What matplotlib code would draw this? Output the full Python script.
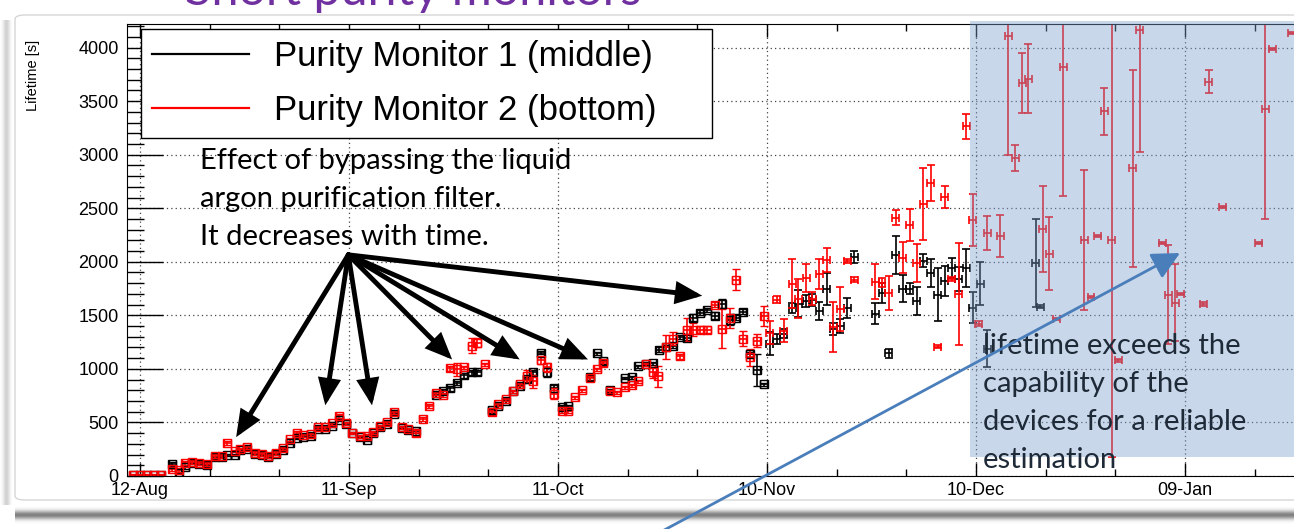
import datetime as dt
import numpy as np
import matplotlib.pyplot as plt
import matplotlib.dates as mdates
from matplotlib.lines import Line2D
from matplotlib.patches import Rectangle, FancyBboxPatch, FancyArrowPatch
from matplotlib.ticker import FixedLocator, MultipleLocator

plt.rcParams['font.family'] = ['Liberation Sans', 'DejaVu Sans']

W, H = 1294, 529
T0 = mdates.date2num(dt.datetime(2015, 8, 12))

# days after 12-Aug, electron lifetime [s] and its error [s]
pm1_day = [
    -1, 0, 1, 2, 3, 4.6, 5.6, 6.5, 7.4, 8.5, 9.6,
    10.8, 11.7, 12.5, 13.6, 14.4, 15.3, 16.5, 17.5, 18.4, 19.5,
    20.5, 21.5, 22.5, 23.4, 24.5, 25.5, 26.6, 27.6, 28.6, 29.6,
    30.5, 31.6, 32.6, 33.5, 34.5, 35.4, 36.5, 37.6, 38.5, 39.6,
    42.5, 43.5, 44.5, 45.5, 46.5, 47.6, 48.4,
    50.5, 51.4, 52.5, 53.6, 54.5, 55.5, 56.4, 57.5, 58.4, 59.4,
    60.6, 61.5, 64.6, 65.6, 66.5, 67.4, 69.6, 70.6, 71.5, 72.6,
    73.6, 74.5, 75.5, 76.5, 77.5, 78.5, 79.4, 80.4, 81.4, 82.5,
    83.5, 84.7, 85.5, 86.5, 87.5, 88.5, 89.5, 90.4, 91.4, 92.4,
    93.6, 94.5, 95.6, 96.5, 97.5, 98.6, 99.5, 100.5, 101.5, 102.5,
    105.5, 106.5, 107.5, 108.5, 109.5, 110.5, 111.5, 112.4, 113.5, 114.5,
    115.5, 116.5, 117.5, 118.6, 119.5, 120.6, 121.6, 128.6, 129.2,
]
pm1_tau = [
    5, 5, 5, 5, 5, 112, 28, 84, 120, 115, 100,
    175, 180, 195, 195, 240, 255, 205, 195, 180, 205,
    245, 310, 357, 365, 375, 440, 440, 470, 525, 490,
    400, 365, 340, 400, 455, 490, 580, 450, 430, 420,
    760, 790, 818, 865, 939, 967, 967,
    614, 651, 700, 790, 840, 902, 967, 1153, 967, 825,
    642, 651, 920, 1144, 1070, 800, 911, 920, 1023, 1050,
    1051, 1181, 1200, 1218, 1300, 1293, 1479, 1525, 1553, 1497,
    1609, 1460, 1479, 1535, 1135, 986, 855, 1237, 1283, 1330,
    1572, 1609, 1637, 1640, 1544, 1748, 1376, 1404, 1572, 2046,
    1516, 1711, 1144, 2065, 1748, 1748, 1637, 2009, 1897, 1693,
    1823, 1944, 1841, 1944, 1572, 1795, 1190, 1990, 1581,
]
pm1_err = [
    5, 5, 5, 5, 5, 15, 12, 15, 12, 12, 12,
    12, 12, 12, 12, 12, 12, 12, 12, 12, 12,
    15, 15, 15, 15, 15, 15, 15, 15, 15, 15,
    12, 12, 15, 15, 15, 15, 15, 15, 15, 15,
    20, 20, 20, 20, 20, 20, 20,
    25, 20, 15, 15, 15, 20, 20, 12, 40, 20,
    20, 12, 20, 10, 20, 12, 10, 15, 12, 15,
    15, 25, 25, 25, 20, 25, 30, 25, 20, 30,
    40, 50, 25, 25, 25, 150, 15, 110, 46, 40,
    46, 124, 55, 55, 85, 147, 55, 65, 93, 55,
    96, 93, 40, 180, 127, 50, 132, 62, 132, 248,
    140, 93, 110, 176, 144, 200, 170, 410, 15,
]

pm2_day = [
    -1, 0, 1, 2, 3, 4.6, 5.6, 6.5, 7.4, 8.5, 9.6,
    10.8, 11.7, 12.5, 13.6, 14.4, 15.3, 16.5, 17.5, 18.4, 19.5,
    20.5, 21.5, 22.5, 23.4, 24.5, 25.5, 26.6, 27.6, 28.6, 29.6,
    30.5, 31.6, 32.6, 33.5, 34.5, 35.4, 36.5, 37.6, 38.5, 39.6,
    40.6, 41.5, 42.5, 43.5, 44.5, 45.5, 46.5, 47.6, 48.4, 49.5,
    50.5, 51.4, 52.5, 53.6, 54.5, 55.5, 56.4, 57.5, 58.4, 59.4,
    60.6, 61.5, 62.4, 63.5, 64.6, 65.6, 66.5, 67.4, 68.4, 69.6,
    70.6, 71.5, 72.6, 73.6, 74.4, 75.5, 76.5, 77.5, 78.5, 79.4,
    80.4, 81.4, 82.5, 83.5, 84.7, 85.5, 86.5, 87.5, 88.5, 89.6,
    90.4, 91.4, 92.4, 93.6, 94.5, 95.6, 96.5, 97.5, 98.6, 99.5,
    100.5, 101.5, 102.5, 105.5, 106.5, 107.5, 108.5, 109.5, 110.5, 111.5,
    112.4, 113.5, 114.5, 115.5, 116.5, 117.5, 118.6, 119.5, 120.4, 121.6,
    123.5, 124.6, 125.6, 126.6, 127.5, 129.6, 130.5, 131.5, 132.5, 135.5,
    136.5, 137.5, 138.4, 139.5, 140.4, 142.5, 143.5, 146.7, 147.6, 148.6,
    149.4, 152.6, 153.4, 155.4, 160.6, 161.5, 162.5, 165.3,
]
pm2_tau = [
    10, 10, 10, 10, 10, 65, 56, 121, 130, 121, 112,
    186, 186, 307, 232, 250, 270, 214, 205, 186, 214,
    260, 344, 400, 381, 390, 456, 456, 493, 558, 493,
    400, 370, 372, 409, 465, 502, 595, 456, 437, 400,
    530, 651, 772, 753, 1004, 995, 1014, 1218, 1246, 1041,
    595, 670, 716, 790, 855, 930, 883, 1079, 1014, 770,
    605, 605, 735, 800, 911, 995, 1051, 790, 781, 828,
    846, 883, 1041, 967, 930, 1200, 1283, 1116, 1367, 1367,
    1367, 1367, 1600, 1376, 1479, 1832, 1283, 1107, 1265, 1497,
    1339, 1646, 1358, 1795, 1655, 1851, 1655, 1888, 2018, 1395,
    1562, 2009, 1832, 1813, 1804, 1711, 2409, 2037, 2344, 1990,
    2539, 2734, 1209, 2604, 1841, 1702, 3264, 2390, 1423, 2270,
    2240, 4110, 2967, 3665, 3711, 2306, 2074, 1469, 3822, 2204,
    1674, 2241, 3404, 2204, 1079, 2874, 4165, 2176, 1693, 1618,
    1702, 1609, 3683, 2511, 2176, 3422, 3990, 4139,
]
pm2_err = [
    8, 8, 8, 8, 8, 20, 15, 15, 15, 15, 15,
    15, 15, 20, 12, 15, 15, 15, 15, 15, 15,
    15, 15, 20, 15, 15, 15, 15, 15, 20, 15,
    10, 15, 20, 15, 15, 15, 20, 15, 15, 25,
    20, 20, 20, 20, 20, 60, 15, 70, 40, 15,
    25, 20, 15, 15, 15, 60, 60, 30, 40, 50,
    20, 20, 15, 15, 20, 15, 20, 15, 15, 15,
    15, 15, 15, 50, 100, 112, 60, 20, 104, 60,
    30, 30, 20, 180, 93, 96, 70, 77, 60, 93,
    108, 30, 105, 230, 180, 132, 60, 140, 112, 233,
    206, 20, 25, 163, 40, 160, 70, 144, 147, 175,
    340, 170, 15, 105, 20, 477, 120, 240, 20, 160,
    200, 1110, 120, 280, 320, 400, 340, 10, 1210, 650,
    10, 10, 220, 2030, 10, 920, 1140, 10, 460, 360,
    10, 20, 110, 10, 10, 1020, 10, 10,
]

legend_labels = ['Purity Monitor 1 (middle)', 'Purity Monitor 2 (bottom)']
x_major_days = [0, 30, 60, 90, 120, 150]


def fig_xy(x, y):
    # pixel position measured from the top-left corner -> figure fraction
    return x / W, 1 - y / H


def draw_monitor(ax, day, tau, err, color):
    day = np.asarray(day, float)
    tau = np.asarray(tau, float)
    err = np.asarray(err, float)
    x = T0 + day
    boxed = day < 90
    style = dict(xerr=0.5, ecolor=color, elinewidth=1.2, capsize=3, capthick=1.2)
    ax.errorbar(x[boxed], tau[boxed], yerr=err[boxed], fmt='s', ms=6,
                mfc='none', mec=color, mew=1.0, **style)
    ax.errorbar(x[~boxed], tau[~boxed], yerr=err[~boxed], fmt='none', **style)


fig = plt.figure(figsize=(W / 100, H / 100), dpi=100)
fig.patch.set_facecolor('white')

# slide card and its shadow
card = FancyBboxPatch(fig_xy(15, 500), (1310 - 15) / W, (500 - 15) / H,
                      boxstyle='round,pad=0,rounding_size=0.008',
                      transform=fig.transFigure, fc='white', ec='#d6d6d6',
                      lw=1.0, zorder=-2)
fig.add_artist(card)
rows = np.arange(22)
shade = 1 - 0.5 * np.exp(-((rows - 10) / 4.0) ** 2)
sh = fig.add_axes([15 / W, 1 - 527 / H, (1294 - 15) / W, 22 / H], zorder=-1)
sh.imshow(shade[:, None], aspect='auto', cmap='gray', vmin=0, vmax=1)
sh.axis('off')
cols = np.arange(12)
side = 1 - 0.18 * np.exp(-((cols - 6) / 3.5) ** 2)
sd = fig.add_axes([0, 1 - 505 / H, 12 / W, 485 / H], zorder=-1)
sd.imshow(side[None, :], aspect='auto', cmap='gray', vmin=0, vmax=1)
sd.axis('off')

ax = fig.add_axes([127 / W, 1 - 476 / H, (1310 - 127) / W, (476 - 24) / H])
ax.set_xlim(T0 + (127 - 140) / 6.967, T0 + (1310 - 140) / 6.967)
ax.set_ylim(0, 4220)

draw_monitor(ax, pm1_day, pm1_tau, pm1_err, 'black')
draw_monitor(ax, pm2_day, pm2_tau, pm2_err, 'red')

ax.xaxis.set_major_locator(FixedLocator(T0 + np.array(x_major_days)))
ax.xaxis.set_minor_locator(FixedLocator(T0 + np.arange(-10, 180, 10)))
ax.xaxis.set_major_formatter(mdates.DateFormatter('%d-%b'))
ax.yaxis.set_major_locator(MultipleLocator(500))
ax.yaxis.set_minor_locator(MultipleLocator(100))
ax.tick_params(which='both', direction='in', top=True, right=False,
               labelsize=13, width=1)
ax.tick_params(axis='y', which='major', length=26, pad=6)
ax.tick_params(axis='y', which='minor', length=12)
ax.tick_params(axis='x', which='major', length=9.5, pad=4)
ax.tick_params(axis='x', which='minor', length=5)
ax.set_axisbelow(True)
ax.grid(True, which='major', ls=(0, (1, 2.5)), color='#444444', lw=0.9)
ax.spines['right'].set_visible(False)

ax.set_ylabel('Lifetime [s]', fontsize=10.5, loc='top')
ax.yaxis.set_label_coords((40 - 127) / 1183, 1 - (40 - 24) / 452)

handles = [Line2D([], [], color='black', lw=1.6), Line2D([], [], color='red', lw=1.6)]
leg = ax.legend(handles, legend_labels, loc='upper left',
                bbox_to_anchor=((141 - 127) / 1183, 0, (712 - 141) / 1183, 1 - (29 - 24) / 452),
                mode='expand', fontsize=25, handlelength=2.8, handletextpad=0.7,
                labelspacing=0.6, borderpad=0.32, borderaxespad=0,
                fancybox=False, framealpha=1, edgecolor='black')
leg.get_frame().set_linewidth(1.0)

# arrows pointing at the bypass periods
origin = (T0 + 29.9, 2065)
targets = [(13.8, 363), (26.6, 660), (33.3, 660), (44.8, 1088),
           (54.5, 1088), (64.3, 1088), (80.7, 1683)]
for d, v in targets:
    ax.annotate('', xy=(T0 + d, v), xytext=origin,
                arrowprops=dict(arrowstyle='-|>,head_length=0.75,head_width=0.32',
                                lw=3.5, color='black', mutation_scale=18,
                                shrinkA=0, shrinkB=0, joinstyle='miter'))

lato = dict(family=['Lato', 'DejaVu Sans'], fontsize=21)
for i, line in enumerate(['Effect of bypassing the liquid',
                          'argon purification filter.',
                          'It decreases with time.']):
    fig.text(*fig_xy(200, 169 + 38 * i), line, va='baseline', color='black',
             zorder=6, **lato)

# region where the lifetime is beyond the monitors' reach
fig.add_artist(Rectangle(fig_xy(970, 457), (1300 - 970) / W, (457 - 21) / H,
                         transform=fig.transFigure, fc='#7ca1cc', alpha=0.42,
                         ec='none', zorder=5))
for i, line in enumerate(['lifetime exceeds the', 'capability of the',
                          'devices for a reliable', 'estimation']):
    fig.text(*fig_xy(983, 354 + 38 * i), line, va='baseline', color='#1e2a38',
             zorder=6, **lato)
fig.add_artist(FancyArrowPatch(fig_xy(655, 535), fig_xy(1180, 253),
                               transform=fig.transFigure,
                               arrowstyle='-|>,head_length=1.2,head_width=0.6',
                               mutation_scale=14, color='#4a7ebb', lw=2.0,
                               shrinkA=0, shrinkB=0, zorder=7))

fig.text(*fig_xy(185, 5), 'Short purity monitors', color='#7030a0',
         va='baseline', family=['Lato', 'DejaVu Sans'], fontsize=35)

fig.savefig('out.png', dpi=100)
